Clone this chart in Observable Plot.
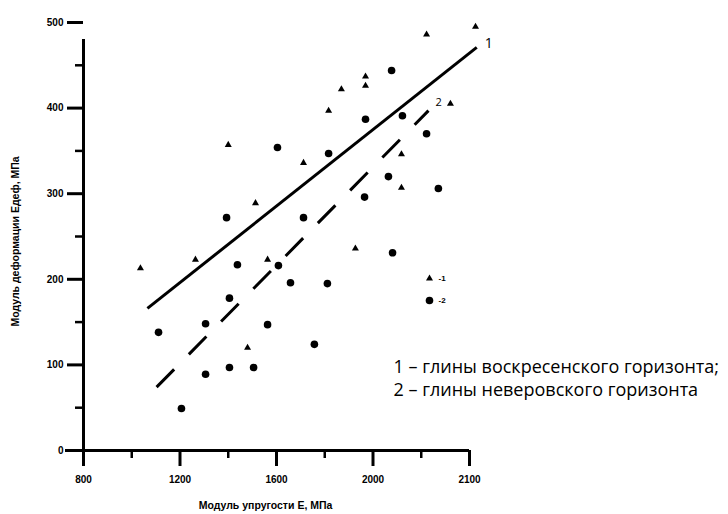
<!DOCTYPE html>
<html>
<head>
<meta charset="utf-8">
<script src="https://cdn.jsdelivr.net/npm/d3@7"></script>
<script src="https://cdn.jsdelivr.net/npm/@observablehq/plot@0.6"></script>
<style>
  html, body { margin: 0; padding: 0; background: #fff; }
  #chart { width: 728px; height: 514px; }
</style>
</head>
<body>
<div id="chart"></div>
<script>
// ---- Data ----
const tri1X = [1036, 1264, 1400, 1513, 1480, 1563, 1712, 1816, 1869, 1969, 1969, 2222, 2425, 2321, 2118, 2118, 1927];
const tri1Y = [213, 223, 357, 289, 120, 223, 336, 397, 422, 437, 426, 486, 495, 405, 346, 307, 236];

const dot2X = [1111, 1306, 1306, 1206, 1405, 1505, 1438, 1405, 1608, 1658, 1811, 1563, 1757, 1393, 1604, 1816, 1712, 2077, 1969, 2122, 2222, 2064, 2271, 1965, 2081];
const dot2Y = [138, 148, 89, 49, 97, 97, 217, 178, 216, 196, 195, 147, 124, 272, 354, 347, 272, 444, 387, 391, 370, 320, 306, 296, 231];

const line1X = [1065, 2430];
const line1Y = [166, 471];
const line2X = [1103, 2230];
const line2Y = [74, 397];

const xTicks = [800, 1200, 1600, 2000, 2400];
const xTickLabels = ["800", "1200", "1600", "2000", "2100"];
const xMinorTicks = [1000, 1400, 1800, 2200];
const yTicks = [0, 100, 200, 300, 400, 500];
const yMinorTicks = [50, 150, 250, 350, 450];

const xLabel = "Модуль упругости Е, МПа";
const yLabel = "Модуль деформации Едеф, МПа";
const seriesNames = ["-1", "-2"];
const lineNames = ["1", "2"];
const notes = ["1 – глины воскресенского горизонта;", "2 – глины неверовского горизонта"];

// ---- Tables built from the arrays ----
const tri = tri1X.map((x, i) => ({x, y: tri1Y[i]}));
const dots = dot2X.map((x, i) => ({x, y: dot2Y[i]}));
const l1 = line1X.map((x, i) => ({x, y: line1Y[i]}));
const l2 = line2X.map((x, i) => ({x, y: line2Y[i]}));

const sans = "Liberation Sans, Arial, sans-serif";
const axisFont = {fontFamily: sans, fontSize: 10, fontWeight: "bold"};
const noteFont = {fontSize: 18, fontWeight: "normal", fontFamily: "Open Sans, sans-serif", textAnchor: "start", lineAnchor: "middle"};

const chart = Plot.plot({
  width: 728,
  height: 514,
  marginLeft: 83,
  marginRight: 259,
  marginTop: 22,
  marginBottom: 64,
  style: {background: "#fff", color: "#000", fontFamily: sans, fontSize: "10px", fontWeight: "bold"},
  x: {domain: [800, 2400]},
  y: {domain: [0, 500]},
  marks: [
    // axis lines
    Plot.ruleY([0], {x1: 800, x2: 2400, insetLeft: -18, strokeWidth: 3, stroke: "#000"}),
    Plot.ruleX([800], {y1: 0, y2: 500, insetBottom: -17, strokeWidth: 3, stroke: "#000"}),
    // ticks
    Plot.axisX({ticks: xTicks, tickFormat: d => xTickLabels[xTicks.indexOf(d)], tickSize: 16, tickPadding: 9, strokeWidth: 3, label: null, ...axisFont}),
    Plot.axisX({ticks: xMinorTicks, text: null, tickSize: 8, strokeWidth: 2.5, label: null}),
    Plot.axisY({ticks: yTicks, tickSize: 16, tickPadding: 4, strokeWidth: 3, label: null, ...axisFont}),
    Plot.axisY({ticks: yMinorTicks, text: null, tickSize: 8, strokeWidth: 2.5, label: null}),
    // axis labels
    Plot.text([yLabel], {frameAnchor: "left", rotate: -90, dx: -68, dy: 5, fontSize: 10.5, fontWeight: "bold", textAnchor: "middle", fontFamily: sans}),
    Plot.text([xLabel], {frameAnchor: "bottom", dx: -11, dy: 55, fontSize: 10.5, fontWeight: "bold", lineAnchor: "middle", fontFamily: sans}),
    // regression lines
    Plot.line(l1, {x: "x", y: "y", stroke: "#000", strokeWidth: 3, strokeLinecap: "butt"}),
    Plot.line(l2, {x: "x", y: "y", stroke: "#000", strokeWidth: 3, strokeDasharray: "25,21", strokeLinecap: "butt"}),
    Plot.text([l1[l1.length - 1]], {x: "x", y: "y", text: () => lineNames[0], dx: 8, dy: -4, textAnchor: "start", fontSize: 14, fontWeight: "normal", fontFamily: "Open Sans, sans-serif"}),
    Plot.text([l2[l2.length - 1]], {x: "x", y: "y", text: () => lineNames[1], dx: 7, dy: -8, textAnchor: "start", fontSize: 11, fontWeight: "normal", fontFamily: "Open Sans, sans-serif"}),
    // points
    Plot.dot(tri, {x: "x", y: "y", symbol: "triangle", r: 2.6, fill: "#000", stroke: "none"}),
    Plot.dot(dots, {x: "x", y: "y", symbol: "circle", r: 3.8, fill: "#000", stroke: "none"}),
    // legend
    Plot.dot([seriesNames[0]], {frameAnchor: "top-left", dx: 346, dy: 256, symbol: "triangle", r: 2.6, fill: "#000"}),
    Plot.dot([seriesNames[1]], {frameAnchor: "top-left", dx: 346, dy: 278, symbol: "circle", r: 3.8, fill: "#000"}),
    Plot.text([seriesNames[0]], {frameAnchor: "top-left", dx: 355, dy: 256, text: d => d, textAnchor: "start", lineAnchor: "middle", fontSize: 8, fontWeight: "bold"}),
    Plot.text([seriesNames[1]], {frameAnchor: "top-left", dx: 355, dy: 278, text: d => d, textAnchor: "start", lineAnchor: "middle", fontSize: 8, fontWeight: "bold"}),
    // notes
    Plot.text([notes[0]], {frameAnchor: "top-left", dx: 310, dy: 345, text: d => d, ...noteFont}),
    Plot.text([notes[1]], {frameAnchor: "top-left", dx: 310, dy: 368, text: d => d, ...noteFont})
  ]
});
document.getElementById("chart").appendChild(chart);
</script>
</body>
</html>
